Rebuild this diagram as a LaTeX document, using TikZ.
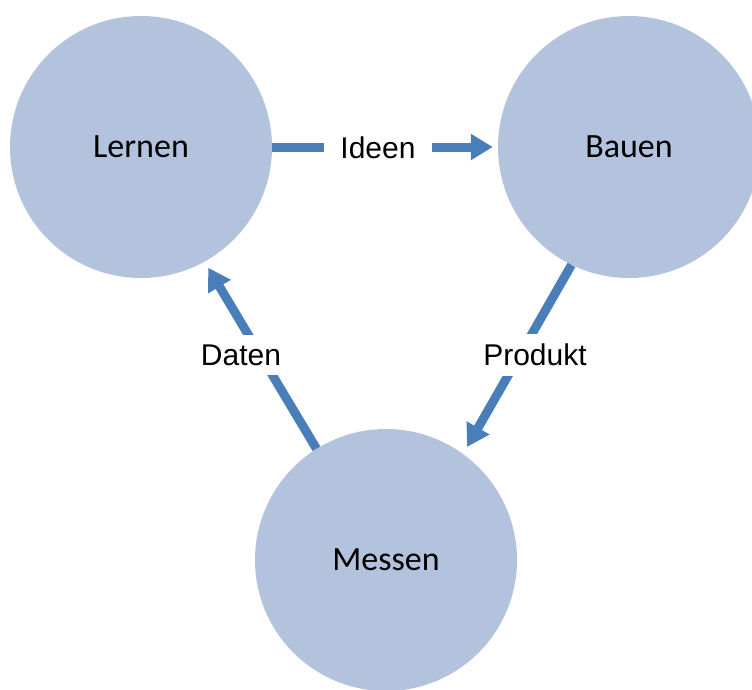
\documentclass[tikz,border=0pt]{standalone}
\usepackage{fontspec}
\setmainfont{Carlito}
\newfontfamily\labelfont{Liberation Sans}
\usetikzlibrary{arrows.meta}
\definecolor{circlefill}{HTML}{B3C3DE}
\definecolor{arrowblue}{HTML}{4A7EBB}
\tikzset{
  phase/.style={circle, fill=circlefill, minimum size=262pt, inner sep=0pt, font=\fontsize{34}{40}\selectfont},
  flow/.style={arrowblue, line width=9pt, -{Triangle[width=25pt, length=22pt]}},
  flowlabel/.style={fill=white, inner xsep=16pt, inner ysep=10pt, font=\labelfont\fontsize{30}{36}\selectfont}
}
\begin{document}
\begin{tikzpicture}[x=1pt, y=-1pt]
\useasboundingbox (0,0) rectangle (752,689);
\node[phase] (lernen) at (141,147){Lernen};
\node[phase] (bauen) at (629,147){Bauen};
\node[phase] (messen) at (386,560){Messen};
\draw[flow, shorten >=5pt](lernen.0) -- (bauen.180);
\draw[flow, shorten >=8pt](bauen.244) -- (messen.54);
\draw[flow, shorten >=7pt](messen.122) -- (lernen.299);
\node[flowlabel] (ideen) at (378,148){Ideen};
\node[flowlabel] (produkt) at (535,355){Produkt};
\node[flowlabel] (daten) at (241,355){Daten};
\end{tikzpicture}
\end{document}
